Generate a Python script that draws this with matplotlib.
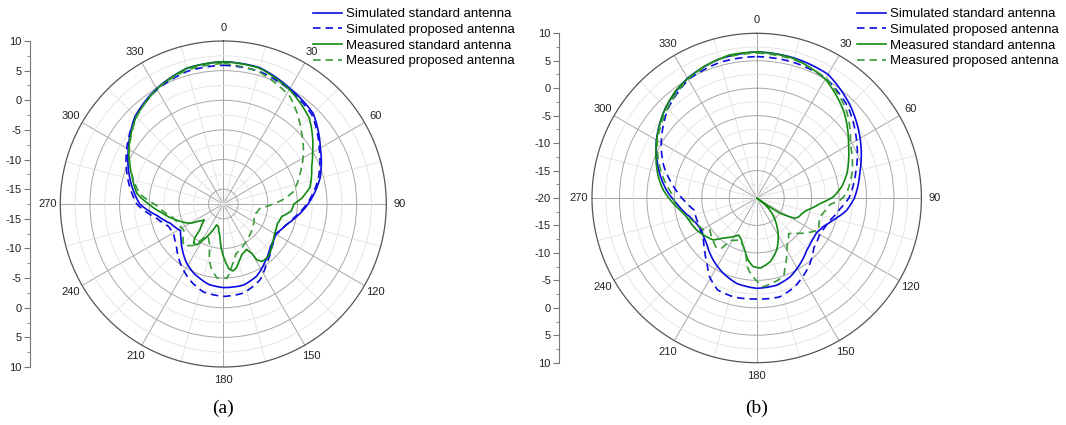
import numpy as np
import matplotlib.pyplot as plt

plt.rcParams['font.family'] = ['Liberation Sans', 'DejaVu Sans']

# ---- panel (a): angle in degrees, gain in dB ----
a_ss_deg = [0, 15, 30, 45, 60, 75, 90, 100, 108, 119, 132, 144, 155, 166, 180, 190, 203, 212, 220, 230,
            238, 250, 260, 270, 285, 300, 315, 330, 345, 360]
a_ss_db = [6.5, 6.3, 5.0, 4.0, 1.4, -0.6, -3.2, -5.0, -6.3, -7.3, -6.8, -5.5, -4.1, -3.4, -3.4, -3.7, -4.8, -5.8, -6.9, -8.2,
           -9.0, -8.0, -6.2, -3.4, -1.2, 1.0, 3.5, 5.0, 6.2, 6.5]

a_sp_deg = [0, 15, 30, 45, 60, 75, 90, 100, 110, 121, 131, 144, 154, 167, 180, 193, 204, 217, 229, 240,
            248, 258, 270, 285, 300, 315, 330, 345, 360]
a_sp_db = [5.9, 5.7, 4.8, 3.7, 1.2, -0.9, -3.4, -5.2, -6.5, -7.3, -6.6, -5.1, -3.3, -2.1, -1.9, -2.3, -3.5, -5.3, -7.0, -7.8,
           -7.5, -6.0, -2.9, -0.8, 1.3, 3.4, 4.8, 5.7, 5.9]

a_ms_deg = [0, 15, 30, 45, 60, 67, 79, 86, 90, 96, 102, 110, 120, 129, 137, 141, 146, 149, 150, 153,
            160, 165, 169, 172, 175, 178, 182, 186, 192, 198, 204, 209, 213, 217, 220, 222, 230, 235, 240, 251,
            262, 270, 277, 287, 300, 315, 330, 345, 360]
a_ms_db = [6.5, 6.2, 4.8, 3.0, -0.1, -1.3, -2.6, -4.3, -5.6, -6.0, -7.4, -7.8, -7.5, -6.9, -6.0, -5.8, -5.8, -6.5, -7.9, -8.9,
           -8.4, -7.4, -6.4, -6.1, -6.5, -7.8, -9.7, -12.0, -13.6, -13.8, -12.1, -10.6, -9.3, -9.2, -10.0, -11.6, -13.3, -12.5, -11.0, -9.2,
           -7.0, -4.9, -2.8, -1.4, 0.9, 3.3, 4.9, 6.2, 6.5]

a_mp_deg = [0, 15, 32, 47, 56, 68, 80, 86, 91, 97, 110, 125, 142, 150, 160, 166, 172, 177, 185, 191,
            194, 198, 205, 210, 215, 224, 236, 248, 256, 269, 277, 290, 300, 315, 330, 345, 360]
a_mp_db = [6.2, 5.6, 3.8, 0.5, -1.2, -3.5, -5.5, -7.5, -9.5, -11.3, -12.0, -11.3, -10.5, -10.0, -9.3, -8.8, -7.0, -5.0, -5.0, -6.6,
           -7.8, -10.2, -11.5, -11.0, -9.0, -7.8, -9.5, -9.2, -8.6, -6.2, -3.3, -0.9, 0.8, 3.2, 4.9, 5.9, 6.2]

# ---- panel (b) ----
b_ss_deg = [0, 15, 30, 45, 60, 75, 90, 98, 106, 113, 120, 128, 136, 146, 157, 167, 180, 193, 204, 215,
            228, 240, 247, 254, 266, 275, 284, 300, 315, 330, 345, 360]
b_ss_db = [6.6, 6.4, 6.0, 4.0, 1.75, -0.5, -2.2, -3.5, -5.5, -6.8, -7.4, -7.3, -6.85, -5.7, -4.4, -3.7, -3.55, -4.0, -5.0, -6.2,
           -7.7, -8.4, -8.1, -7.4, -5.4, -3.5, -1.8, 1.1, 3.4, 5.2, 6.2, 6.6]

b_sp_deg = [0, 15, 30, 45, 60, 75, 90, 98, 108, 119, 131, 143, 157, 167, 180, 193, 203, 211, 217, 225,
            234, 246, 259, 266, 278, 289, 298, 315, 330, 345, 360]
b_sp_db = [5.75, 5.6, 5.2, 3.5, 1.0, -1.3, -3.2, -4.8, -6.2, -6.8, -6.2, -4.3, -2.4, -1.5, -1.6, -1.5, -1.8, -3.3, -5.0, -6.6,
           -8.0, -8.4, -8.4, -7.2, -4.7, -2.1, -0.3, 2.9, 4.9, 5.6, 5.75]

b_ms_deg = [0, 15, 30, 45, 60, 67, 75, 82, 89, 95, 103.5, 109, 114, 118, 119.5, 123, 125, 125.5, 126, 131,
            140, 151, 159, 168, 177, 183, 188, 193, 200, 206, 211, 220, 226, 242, 255, 261, 269, 275, 282, 292,
            300, 312, 323, 338, 349, 360]
b_ms_db = [6.6, 6.3, 5.0, 2.4, -0.7, -1.8, -3.0, -4.3, -6.0, -8.4, -10.6, -11.3, -11.6, -12.1, -13.0, -14.9, -17.8, -20.0, -18.9, -17.2,
           -14.8, -11.9, -9.85, -8.15, -7.2, -7.5, -8.6, -10.3, -11.9, -12.5, -11.8, -10.5, -9.0, -7.6, -6.8, -5.9, -4.2, -2.9, -1.7, -0.2,
           1.05, 2.95, 4.5, 5.8, 6.5, 6.6]

b_mp_deg = [0, 15, 30, 45, 60, 75, 87, 91.5, 95, 106, 112, 117, 125, 131, 138, 148, 152, 157.5, 161, 170,
            176, 184, 188, 190, 195, 202, 212, 215, 218.5, 236, 239, 247, 256, 264, 273, 285, 300, 315, 330, 345, 360]
b_mp_db = [6.4, 6.1, 5.2, 3.0, -0.3, -2.0, -3.6, -4.8, -6.6, -8.0, -7.8, -7.3, -8.9, -10.2, -11.3, -9.6, -8.3, -6.5, -4.9, -4.2,
           -3.8, -6.0, -7.4, -9.1, -10.8, -11.8, -10.9, -8.8, -8.3, -9.7, -8.7, -8.1, -6.8, -5.3, -4.5, -2.0, 0.9, 3.0, 5.0, 6.2, 6.4]

series_names = ['Simulated standard antenna', 'Simulated proposed antenna',
                'Measured standard antenna', 'Measured proposed antenna']
angle_labels = [0, 30, 60, 90, 120, 150, 180, 210, 240, 270, 300, 330]
scale_labels = [10, 5, 0, -5, -10, -15]

BLUE = '#0a0ae0'
GREEN = '#128a12'
GREEN_D = '#3a9a3a'
styles = [dict(color=BLUE, lw=1.2, ls='-'),
          dict(color=BLUE, lw=1.2, ls=(0, (4.5, 3))),
          dict(color=GREEN, lw=1.2, ls='-'),
          dict(color=GREEN_D, lw=1.2, ls=(0, (4.5, 3)))]

W, H = 1066, 425
fig = plt.figure(figsize=(W / 100, H / 100), dpi=100)


def px(x, y, w, h):
    return [x / W, 1 - (y + h) / H, w / W, h / H]


def panel(cx, cy, rad, rmin, spine_x, curves, leg_x, caption):
    ax = fig.add_axes(px(cx - rad, cy - rad, 2 * rad, 2 * rad), projection='polar')
    ax.set_theta_zero_location('N')
    ax.set_theta_direction(-1)
    ax.set_ylim(rmin, 10)
    ax.set_xticks(np.radians(np.arange(0, 360, 30)))
    ax.set_xticks(np.radians(np.arange(15, 360, 30)), minor=True)
    ax.set_xticklabels([])
    ax.set_yticks([-15, -10, -5, 0, 5])
    ax.set_yticks([v for v in np.arange(-17.5, 10, 5) if v > rmin], minor=True)
    ax.set_yticklabels([])
    ax.grid(which='major', color='#a8a8a8', lw=0.7)
    ax.grid(which='minor', color='#e2e2e2', lw=0.6)
    ax.tick_params(axis='x', which='major', length=4, color='#666', direction='out')
    ax.tick_params(axis='x', which='minor', length=2.5, color='#888', direction='out')
    ax.spines['polar'].set_color('#555')
    ax.spines['polar'].set_linewidth(0.9)

    handles = []
    for (deg, db), st, name in zip(curves, styles, series_names):
        h, = ax.plot(np.radians(deg), db, label=name, **st)
        # draw each segment as a polar arc/spiral instead of a straight chord
        h.get_path()._interpolation_steps = 50
        handles.append(h)

    for a in angle_labels:
        t = np.radians(a)
        ax.text(0.5 + 0.54 * np.sin(t), 0.5 + 0.54 * np.cos(t), str(a), transform=ax.transAxes,
                ha='center', va='center', fontsize=8, color='#222')

    # linear dB scale on the left, mirrored about the centre
    span = 10 - rmin
    lax = fig.add_axes(px(spine_x, cy - rad, 0.5, 2 * rad))
    lax.set_ylim(-span, span)
    pos = [v - rmin for v in scale_labels] + [rmin - v for v in scale_labels]
    labs = [str(v) for v in scale_labels] * 2
    if rmin == -20:
        pos.append(0)
        labs.append('-20')
    lax.set_yticks(pos)
    lax.set_yticklabels(labs)
    lax.set_yticks(np.arange(-span + 2.5, span, 5), minor=True)
    lax.tick_params(axis='y', which='major', length=4, color='#777', labelsize=8, labelcolor='#222', pad=2)
    lax.tick_params(axis='y', which='minor', length=2.5, color='#777')
    lax.set_xticks([])
    for s in ('top', 'right', 'bottom'):
        lax.spines[s].set_visible(False)
    lax.spines['left'].set_color('#777')
    lax.patch.set_visible(False)

    ax.legend(handles=handles, loc='upper left', bbox_to_anchor=(leg_x / W, 1 - 8 / H),
              bbox_transform=fig.transFigure, frameon=False, fontsize=9.5,
              handlelength=2.2, handletextpad=0.3, labelspacing=0.26,
              borderpad=0, borderaxespad=0)
    fig.text(cx / W, 1 - 408 / H, caption, ha='center', va='center', fontsize=14,
             family='Liberation Serif')


panel(223.3, 204, 163, -17.5, 30,
      [(a_ss_deg, a_ss_db), (a_sp_deg, a_sp_db), (a_ms_deg, a_ms_db), (a_mp_deg, a_mp_db)],
      312.7, '(a)')
panel(756.7, 198, 164.7, -20, 559.3,
      [(b_ss_deg, b_ss_db), (b_sp_deg, b_sp_db), (b_ms_deg, b_ms_db), (b_mp_deg, b_mp_db)],
      856.7, '(b)')

fig.savefig('out.png', dpi=100, facecolor='white')
